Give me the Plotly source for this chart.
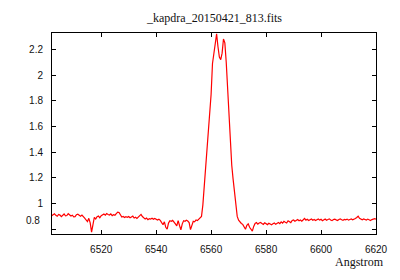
import plotly.graph_objects as go

title_text = "_kapdra_20150421_813.fits"
x_label = "Angstrom"

wavelength = [
    6502.0, 6502.5, 6503.0, 6503.5, 6504.0, 6504.5, 6505.0, 6505.5, 6506.0, 6506.5,
    6507.0, 6507.5, 6508.0, 6508.5, 6509.0, 6509.5, 6510.0, 6510.5, 6511.0, 6511.5,
    6512.0, 6512.5, 6513.0, 6513.5, 6514.0, 6514.5, 6515.0, 6515.5, 6516.0, 6516.5,
    6517.0, 6517.5, 6518.0, 6518.5, 6519.0, 6519.5, 6520.0, 6520.5, 6521.0, 6521.5,
    6522.0, 6522.5, 6523.0, 6523.5, 6524.0, 6524.5, 6525.0, 6525.5, 6526.0, 6526.5,
    6527.0, 6527.5, 6528.0, 6528.5, 6529.0, 6529.5, 6530.0, 6530.5, 6531.0, 6531.5,
    6532.0, 6532.5, 6533.0, 6533.5, 6534.0, 6534.5, 6535.0, 6535.5, 6536.0, 6536.5,
    6537.0, 6537.5, 6538.0, 6538.5, 6539.0, 6539.5, 6540.0, 6540.5, 6541.0, 6541.5,
    6542.0, 6542.5, 6543.0, 6543.5, 6544.0, 6544.5, 6545.0, 6545.5, 6546.0, 6546.5,
    6547.0, 6547.5, 6548.0, 6548.5, 6549.0, 6549.5, 6550.0, 6550.5, 6551.0, 6551.5,
    6552.0, 6552.5, 6553.0, 6553.5, 6554.0, 6554.5, 6555.0, 6555.5, 6556.0, 6556.5,
    6557.0, 6557.5, 6558.0, 6558.5, 6559.0, 6559.5, 6560.0, 6560.5, 6561.0, 6561.5,
    6562.0, 6562.5, 6563.0, 6563.5, 6564.0, 6564.5, 6565.0, 6565.5, 6566.0, 6566.5,
    6567.0, 6567.5, 6568.0, 6568.5, 6569.0, 6569.5, 6570.0, 6570.5, 6571.0, 6571.5,
    6572.0, 6572.5, 6573.0, 6573.5, 6574.0, 6574.5, 6575.0, 6575.5, 6576.0, 6576.5,
    6577.0, 6577.5, 6578.0, 6578.5, 6579.0, 6579.5, 6580.0, 6580.5, 6581.0, 6581.5,
    6582.0, 6582.5, 6583.0, 6583.5, 6584.0, 6584.5, 6585.0, 6585.5, 6586.0, 6586.5,
    6587.0, 6587.5, 6588.0, 6588.5, 6589.0, 6589.5, 6590.0, 6590.5, 6591.0, 6591.5,
    6592.0, 6592.5, 6593.0, 6593.5, 6594.0, 6594.5, 6595.0, 6595.5, 6596.0, 6596.5,
    6597.0, 6597.5, 6598.0, 6598.5, 6599.0, 6599.5, 6600.0, 6600.5, 6601.0, 6601.5,
    6602.0, 6602.5, 6603.0, 6603.5, 6604.0, 6604.5, 6605.0, 6605.5, 6606.0, 6606.5,
    6607.0, 6607.5, 6608.0, 6608.5, 6609.0, 6609.5, 6610.0, 6610.5, 6611.0, 6611.5,
    6612.0, 6612.5, 6613.0, 6613.5, 6614.0, 6614.5, 6615.0, 6615.5, 6616.0, 6616.5,
    6617.0, 6617.5, 6618.0, 6618.5, 6619.0, 6619.5, 6620.0,
]

flux = [
    0.905, 0.912, 0.920, 0.908, 0.901, 0.915, 0.910, 0.898, 0.912, 0.919,
    0.904, 0.907, 0.921, 0.914, 0.903, 0.909, 0.896, 0.898, 0.913, 0.917,
    0.906, 0.902, 0.911, 0.894, 0.887, 0.872, 0.860, 0.885, 0.850, 0.778,
    0.835, 0.892, 0.880, 0.898, 0.903, 0.889, 0.905, 0.912, 0.918, 0.909,
    0.922, 0.915, 0.911, 0.919, 0.906, 0.913, 0.909, 0.921, 0.933, 0.930,
    0.912, 0.895, 0.899, 0.891, 0.897, 0.893, 0.899, 0.889, 0.896, 0.902,
    0.887, 0.893, 0.884, 0.897, 0.905, 0.916, 0.899, 0.885, 0.879, 0.887,
    0.874, 0.882, 0.879, 0.885, 0.877, 0.884, 0.880, 0.872, 0.878, 0.869,
    0.852, 0.836, 0.858, 0.815, 0.800, 0.848, 0.866, 0.862, 0.869, 0.858,
    0.841, 0.826, 0.867, 0.829, 0.795, 0.842, 0.866, 0.862, 0.870, 0.864,
    0.852, 0.797, 0.835, 0.862, 0.858, 0.872, 0.867, 0.878, 0.883, 0.900,
    0.990, 1.130, 1.280, 1.420, 1.550, 1.660, 1.850, 2.090, 2.180, 2.260,
    2.320, 2.220, 2.140, 2.120, 2.170, 2.280, 2.250, 2.100, 1.880, 1.630,
    1.420, 1.300, 1.190, 1.100, 0.980, 0.900, 0.870, 0.855, 0.845, 0.838,
    0.818, 0.800, 0.830, 0.842, 0.815, 0.796, 0.785, 0.822, 0.845, 0.852,
    0.840, 0.848, 0.853, 0.845, 0.838, 0.850, 0.844, 0.836, 0.846, 0.840,
    0.835, 0.842, 0.848, 0.839, 0.845, 0.852, 0.843, 0.858, 0.848, 0.862,
    0.855, 0.849, 0.866, 0.859, 0.852, 0.868, 0.872, 0.862, 0.869, 0.875,
    0.866, 0.872, 0.863, 0.878, 0.884, 0.871, 0.877, 0.868, 0.874, 0.879,
    0.870, 0.876, 0.868, 0.874, 0.880, 0.871, 0.877, 0.866, 0.873, 0.879,
    0.870, 0.876, 0.881, 0.872, 0.867, 0.875, 0.879, 0.873, 0.868, 0.876,
    0.881, 0.874, 0.870, 0.877, 0.873, 0.879, 0.871, 0.876, 0.880, 0.873,
    0.877, 0.884, 0.892, 0.901, 0.885, 0.878, 0.874, 0.880, 0.876, 0.872,
    0.879, 0.874, 0.868, 0.875, 0.880, 0.883, 0.878,
]

x_ticks = [6520, 6540, 6560, 6580, 6600, 6620]
y_ticks = [0.8, 1.0, 1.2, 1.4, 1.6, 1.8, 2.0, 2.2]
y_tick_text = ["", "1", "1.2", "1.4", "1.6", "1.8", "2", "2.2"]

fig = go.Figure()
fig.add_trace(go.Scatter(
    x=wavelength, y=flux, mode="lines",
    line=dict(color="#ff0000", width=1.2),
    showlegend=False,
))

tick_font = dict(family="Liberation Sans, Arial, sans-serif", size=10, color="#111111")
serif_font = dict(family="Liberation Serif, Times New Roman, serif", size=12, color="#111111")

axis_common = dict(
    showline=True, mirror="ticks", linecolor="black", linewidth=1,
    ticks="inside", ticklen=4, tickcolor="black", tickwidth=1,
    showgrid=False, zeroline=False, tickfont=tick_font,
)

fig.update_xaxes(
    range=[6502.1, 6620], tickvals=x_ticks,
    ticktext=[str(v) for v in x_ticks], ticklabelstandoff=6,
    **axis_common,
)
fig.update_yaxes(
    range=[0.763, 2.327], tickvals=y_ticks, ticktext=y_tick_text,
    ticklabelstandoff=6, **axis_common,
)

fig.add_annotation(
    x=0, xref="paper", y=0.8, yref="y", text="0.8", showarrow=False,
    xanchor="right", yanchor="middle", xshift=-10, yshift=9, font=tick_font,
)
fig.add_annotation(
    x=0.5, xref="paper", y=1, yref="paper", text=title_text, showarrow=False,
    xanchor="center", yanchor="bottom", yshift=6, font=serif_font,
)
fig.add_annotation(
    x=1, xref="paper", y=0, yref="paper", text=x_label, showarrow=False,
    xanchor="right", yanchor="top", xshift=10, yshift=-19, font=serif_font,
)

fig.update_layout(
    width=400, height=280,
    margin=dict(l=52, r=19, t=33, b=46),
    paper_bgcolor="white", plot_bgcolor="white",
)

fig.write_html("out.html")
